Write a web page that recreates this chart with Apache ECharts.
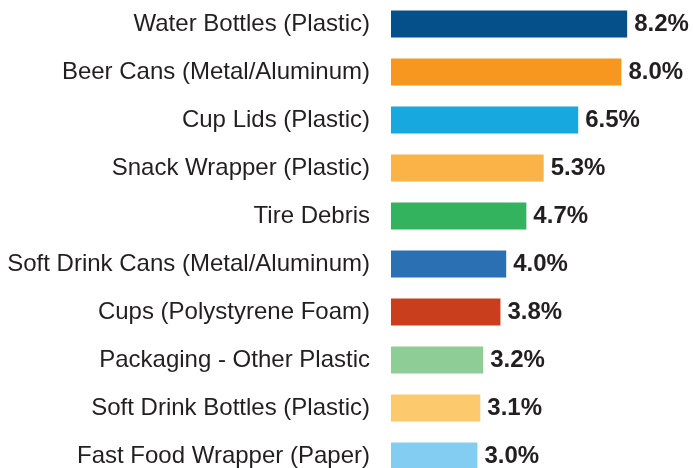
<!DOCTYPE html>
<html>
<head>
<meta charset="utf-8">
<script src="https://cdn.jsdelivr.net/npm/echarts@6/dist/echarts.min.js"></script>
<style>
  html, body { margin: 0; padding: 0; background: #fff; }
  #chart { width: 693px; height: 468px; }
</style>
</head>
<body>
<div id="chart"></div>
<script>
// items, top to bottom
var categories = [
    'Water Bottles (Plastic)',
    'Beer Cans (Metal/Aluminum)',
    'Cup Lids (Plastic)',
    'Snack Wrapper (Plastic)',
    'Tire Debris',
    'Soft Drink Cans (Metal/Aluminum)',
    'Cups (Polystyrene Foam)',
    'Packaging - Other Plastic',
    'Soft Drink Bottles (Plastic)',
    'Fast Food Wrapper (Paper)'
];
var shares = [8.2, 8.0, 6.5, 5.3, 4.7, 4.0, 3.8, 3.2, 3.1, 3.0];
var barColors = [
    '#054f8b', '#f7971f', '#17a8e0', '#fbb347', '#33b35d',
    '#2b70b3', '#c93e1d', '#8ecd96', '#fdc96d', '#83cdf2'
];

var chart = echarts.init(document.getElementById('chart'));
var fontName = '"Liberation Sans", Arial, sans-serif';

chart.setOption({
    animation: false,
    grid: {
        left: 391, right: 14, top: 0, bottom: -12,
        containLabel: false,
        outerBoundsMode: 'none'
    },
    xAxis: {
        type: 'value',
        min: 0,
        max: 10,
        show: false
    },
    yAxis: {
        type: 'category',
        data: categories,
        inverse: true,
        axisLine: { show: false },
        axisTick: { show: false },
        axisLabel: {
            margin: 21,
            fontSize: 24,
            fontFamily: fontName,
            color: '#231f20'
        }
    },
    series: [{
        type: 'bar',
        barWidth: 27,
        data: shares.map(function (v, i) {
            return { value: v, itemStyle: { color: barColors[i] } };
        }),
        label: {
            show: true,
            position: 'right',
            distance: 7,
            fontSize: 24,
            fontWeight: 'bold',
            fontFamily: fontName,
            color: '#231f20',
            formatter: function (p) {
                return p.value.toFixed(1) + '%';
            }
        }
    }]
});
</script>
</body>
</html>
